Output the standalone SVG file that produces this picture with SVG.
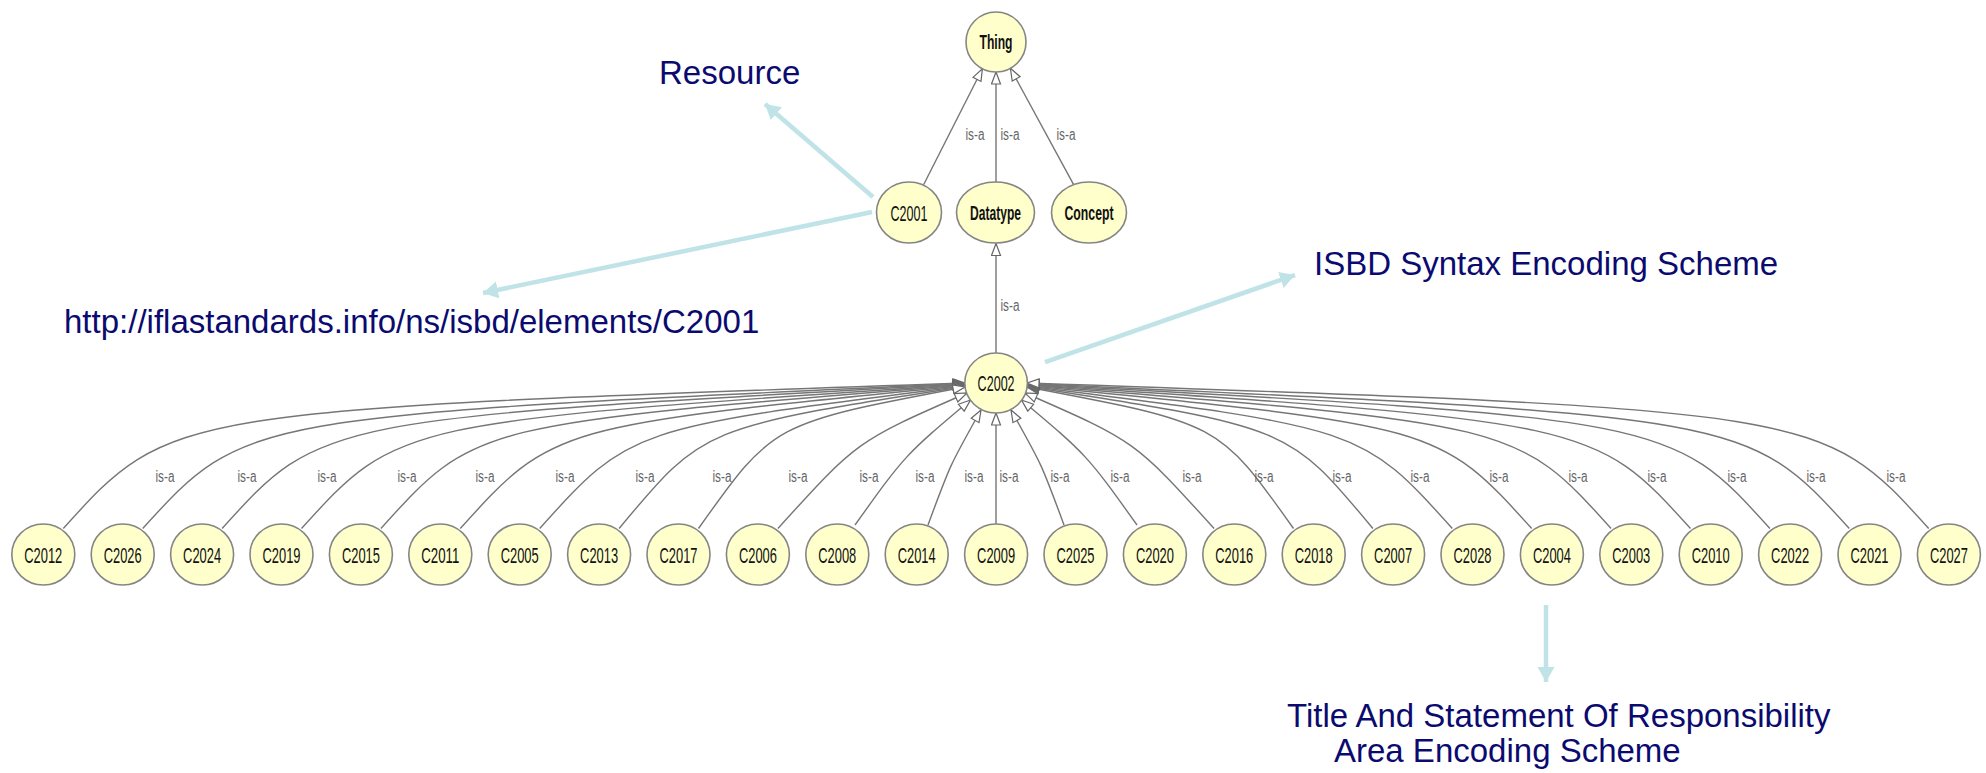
<svg xmlns="http://www.w3.org/2000/svg" width="1986" height="773" viewBox="0 0 1986 773">
<style>
.node ellipse{fill:#ffffcc;stroke:#858585;stroke-width:1.6}
.nt{font-family:"Liberation Sans",Arial,sans-serif;font-size:22px;fill:#111;text-anchor:middle}
.nb{font-family:"Liberation Sans",Arial,sans-serif;font-size:20px;font-weight:bold;fill:#111;text-anchor:middle}
.e{fill:none;stroke:#767676;stroke-width:1.4}
.lbl{font-family:"Liberation Sans",Arial,sans-serif;font-size:16px;fill:#666;text-anchor:middle}
.ann{fill:none;stroke:#bfe3e7;stroke-width:4.5}
.at{font-family:"Liberation Sans",Arial,sans-serif;font-size:33px;fill:#0b0b6f}
</style>
<defs>
<marker id="isa" markerUnits="userSpaceOnUse" markerWidth="16" markerHeight="12" refX="13" refY="5.5" orient="auto">
<path d="M1,1 L13,5.5 L1,10 Z" fill="#fff" stroke="#666" stroke-width="1.2"/>
</marker>
<marker id="blue" markerUnits="userSpaceOnUse" markerWidth="18" markerHeight="18" refX="15" refY="8.5" orient="auto">
<path d="M0,0 L15,8.5 L0,17 Z" fill="#bfe3e7"/>
</marker>
</defs>

<g id="connectors">
<path class="e" d="M923.6,184.7 L982.4,68.7" marker-end="url(#isa)"/>
<path class="e" d="M996,182 L996,72" marker-end="url(#isa)"/>
<path class="e" d="M1073.5,184.3 L1010.4,68.3" marker-end="url(#isa)"/>
<path class="e" d="M996,353 L996,243.5" marker-end="url(#isa)"/>
<path class="e" d="M63.3,528.5 C170,410 170,410 965,383" marker-end="url(#isa)"/>
<path class="e" d="M142.7,528.5 C245,416 245,416 965,383.5" marker-end="url(#isa)"/>
<path class="e" d="M222.1,528.5 C321,419 321,419 965,384" marker-end="url(#isa)"/>
<path class="e" d="M301.5,528.5 C398,422 398,422 965,384.5" marker-end="url(#isa)"/>
<path class="e" d="M380.9,528.5 C475,424 475,424 965,385" marker-end="url(#isa)"/>
<path class="e" d="M460.3,528.5 C553,426 553,426 965,385.5" marker-end="url(#isa)"/>
<path class="e" d="M539.7,528.5 C630,428 630,428 965,386" marker-end="url(#isa)"/>
<path class="e" d="M619.1,528.5 C703,427 703,427 965,386.5" marker-end="url(#isa)"/>
<path class="e" d="M698.5,528.5 C773,423 773,423 965,387" marker-end="url(#isa)"/>
<path class="e" d="M777.9,528.5 C857,441 857,441 967,393" marker-end="url(#isa)"/>
<path class="e" d="M855,525 C905,455 905,455 970.5,400" marker-end="url(#isa)"/>
<path class="e" d="M928,525 C950,465 950,465 981,410" marker-end="url(#isa)"/>
<path class="e" d="M996,524 L996,413" marker-end="url(#isa)"/>
<path class="e" d="M1064,525 C1042,465 1042,465 1011,410" marker-end="url(#isa)"/>
<path class="e" d="M1137,525 C1087,455 1087,455 1021.5,400" marker-end="url(#isa)"/>
<path class="e" d="M1214.1,528.5 C1135,441 1135,441 1025,393" marker-end="url(#isa)"/>
<path class="e" d="M1293.5,528.5 C1219,423 1219,423 1027,387" marker-end="url(#isa)"/>
<path class="e" d="M1372.9,528.5 C1289,427 1289,427 1027,386.5" marker-end="url(#isa)"/>
<path class="e" d="M1452.3,528.5 C1362,428 1362,428 1027,386" marker-end="url(#isa)"/>
<path class="e" d="M1531.7,528.5 C1439,426 1439,426 1027,385.5" marker-end="url(#isa)"/>
<path class="e" d="M1611.1,528.5 C1517,424 1517,424 1027,385" marker-end="url(#isa)"/>
<path class="e" d="M1690.5,528.5 C1594,422 1594,422 1027,384.5" marker-end="url(#isa)"/>
<path class="e" d="M1769.9,528.5 C1671,419 1671,419 1027,384" marker-end="url(#isa)"/>
<path class="e" d="M1849.3,528.5 C1747,416 1747,416 1027,383.5" marker-end="url(#isa)"/>
<path class="e" d="M1928.7,528.5 C1822,410 1822,410 1027,383" marker-end="url(#isa)"/>
<g>
<text class="lbl" x="975" y="140" textLength="19" lengthAdjust="spacingAndGlyphs">is-a</text>
<text class="lbl" x="1010" y="140" textLength="19" lengthAdjust="spacingAndGlyphs">is-a</text>
<text class="lbl" x="1066" y="140" textLength="19" lengthAdjust="spacingAndGlyphs">is-a</text>
<text class="lbl" x="1010" y="311" textLength="19" lengthAdjust="spacingAndGlyphs">is-a</text>
<text class="lbl" x="165" y="482" textLength="19" lengthAdjust="spacingAndGlyphs">is-a</text>
<text class="lbl" x="247" y="482" textLength="19" lengthAdjust="spacingAndGlyphs">is-a</text>
<text class="lbl" x="327" y="482" textLength="19" lengthAdjust="spacingAndGlyphs">is-a</text>
<text class="lbl" x="407" y="482" textLength="19" lengthAdjust="spacingAndGlyphs">is-a</text>
<text class="lbl" x="485" y="482" textLength="19" lengthAdjust="spacingAndGlyphs">is-a</text>
<text class="lbl" x="565" y="482" textLength="19" lengthAdjust="spacingAndGlyphs">is-a</text>
<text class="lbl" x="645" y="482" textLength="19" lengthAdjust="spacingAndGlyphs">is-a</text>
<text class="lbl" x="722" y="482" textLength="19" lengthAdjust="spacingAndGlyphs">is-a</text>
<text class="lbl" x="798" y="482" textLength="19" lengthAdjust="spacingAndGlyphs">is-a</text>
<text class="lbl" x="869" y="482" textLength="19" lengthAdjust="spacingAndGlyphs">is-a</text>
<text class="lbl" x="925" y="482" textLength="19" lengthAdjust="spacingAndGlyphs">is-a</text>
<text class="lbl" x="974" y="482" textLength="19" lengthAdjust="spacingAndGlyphs">is-a</text>
<text class="lbl" x="1009" y="482" textLength="19" lengthAdjust="spacingAndGlyphs">is-a</text>
<text class="lbl" x="1060" y="482" textLength="19" lengthAdjust="spacingAndGlyphs">is-a</text>
<text class="lbl" x="1120" y="482" textLength="19" lengthAdjust="spacingAndGlyphs">is-a</text>
<text class="lbl" x="1192" y="482" textLength="19" lengthAdjust="spacingAndGlyphs">is-a</text>
<text class="lbl" x="1264" y="482" textLength="19" lengthAdjust="spacingAndGlyphs">is-a</text>
<text class="lbl" x="1342" y="482" textLength="19" lengthAdjust="spacingAndGlyphs">is-a</text>
<text class="lbl" x="1420" y="482" textLength="19" lengthAdjust="spacingAndGlyphs">is-a</text>
<text class="lbl" x="1499" y="482" textLength="19" lengthAdjust="spacingAndGlyphs">is-a</text>
<text class="lbl" x="1578" y="482" textLength="19" lengthAdjust="spacingAndGlyphs">is-a</text>
<text class="lbl" x="1657" y="482" textLength="19" lengthAdjust="spacingAndGlyphs">is-a</text>
<text class="lbl" x="1737" y="482" textLength="19" lengthAdjust="spacingAndGlyphs">is-a</text>
<text class="lbl" x="1816" y="482" textLength="19" lengthAdjust="spacingAndGlyphs">is-a</text>
<text class="lbl" x="1896" y="482" textLength="19" lengthAdjust="spacingAndGlyphs">is-a</text>
</g>
<path class="ann" d="M873,197 L765,104" marker-end="url(#blue)"/>
<path class="ann" d="M872,212 L483,293" marker-end="url(#blue)"/>
<path class="ann" d="M1045,362 L1295,275" marker-end="url(#blue)"/>
<path class="ann" d="M1546,605 L1546,682" marker-end="url(#blue)"/>
</g>

<g id="n-Thing" class="node"><ellipse cx="996" cy="42" rx="30" ry="30"/><text class="nb" x="996" y="49" textLength="33" lengthAdjust="spacingAndGlyphs">Thing</text></g>
<g id="n-C2001" class="node"><ellipse cx="909" cy="212.5" rx="32.5" ry="30.5"/><text class="nt" x="909" y="220.5" textLength="37" lengthAdjust="spacingAndGlyphs">C2001</text></g>
<g id="n-Datatype" class="node"><ellipse cx="995.5" cy="212.5" rx="39" ry="30.5"/><text class="nb" x="995.5" y="219.5" textLength="51" lengthAdjust="spacingAndGlyphs">Datatype</text></g>
<g id="n-Concept" class="node"><ellipse cx="1089" cy="212.5" rx="37.5" ry="30.5"/><text class="nb" x="1089" y="219.5" textLength="49" lengthAdjust="spacingAndGlyphs">Concept</text></g>
<g id="n-C2002" class="node"><ellipse cx="996.1" cy="383" rx="31.3" ry="30"/><text class="nt" x="996.1" y="391" textLength="37" lengthAdjust="spacingAndGlyphs">C2002</text></g>

<g id="n-C2012" class="node"><ellipse cx="43.3" cy="554.5" rx="31.5" ry="30.5"/><text class="nt" x="43.3" y="562.5" textLength="38" lengthAdjust="spacingAndGlyphs">C2012</text></g>
<g id="n-C2026" class="node"><ellipse cx="122.7" cy="554.5" rx="31.5" ry="30.5"/><text class="nt" x="122.7" y="562.5" textLength="38" lengthAdjust="spacingAndGlyphs">C2026</text></g>
<g id="n-C2024" class="node"><ellipse cx="202.1" cy="554.5" rx="31.5" ry="30.5"/><text class="nt" x="202.1" y="562.5" textLength="38" lengthAdjust="spacingAndGlyphs">C2024</text></g>
<g id="n-C2019" class="node"><ellipse cx="281.5" cy="554.5" rx="31.5" ry="30.5"/><text class="nt" x="281.5" y="562.5" textLength="38" lengthAdjust="spacingAndGlyphs">C2019</text></g>
<g id="n-C2015" class="node"><ellipse cx="360.9" cy="554.5" rx="31.5" ry="30.5"/><text class="nt" x="360.9" y="562.5" textLength="38" lengthAdjust="spacingAndGlyphs">C2015</text></g>
<g id="n-C2011" class="node"><ellipse cx="440.3" cy="554.5" rx="31.5" ry="30.5"/><text class="nt" x="440.3" y="562.5" textLength="38" lengthAdjust="spacingAndGlyphs">C2011</text></g>
<g id="n-C2005" class="node"><ellipse cx="519.7" cy="554.5" rx="31.5" ry="30.5"/><text class="nt" x="519.7" y="562.5" textLength="38" lengthAdjust="spacingAndGlyphs">C2005</text></g>
<g id="n-C2013" class="node"><ellipse cx="599.1" cy="554.5" rx="31.5" ry="30.5"/><text class="nt" x="599.1" y="562.5" textLength="38" lengthAdjust="spacingAndGlyphs">C2013</text></g>
<g id="n-C2017" class="node"><ellipse cx="678.5" cy="554.5" rx="31.5" ry="30.5"/><text class="nt" x="678.5" y="562.5" textLength="38" lengthAdjust="spacingAndGlyphs">C2017</text></g>
<g id="n-C2006" class="node"><ellipse cx="757.9" cy="554.5" rx="31.5" ry="30.5"/><text class="nt" x="757.9" y="562.5" textLength="38" lengthAdjust="spacingAndGlyphs">C2006</text></g>
<g id="n-C2008" class="node"><ellipse cx="837.3" cy="554.5" rx="31.5" ry="30.5"/><text class="nt" x="837.3" y="562.5" textLength="38" lengthAdjust="spacingAndGlyphs">C2008</text></g>
<g id="n-C2014" class="node"><ellipse cx="916.7" cy="554.5" rx="31.5" ry="30.5"/><text class="nt" x="916.7" y="562.5" textLength="38" lengthAdjust="spacingAndGlyphs">C2014</text></g>
<g id="n-C2009" class="node"><ellipse cx="996.1" cy="554.5" rx="31.5" ry="30.5"/><text class="nt" x="996.1" y="562.5" textLength="38" lengthAdjust="spacingAndGlyphs">C2009</text></g>
<g id="n-C2025" class="node"><ellipse cx="1075.5" cy="554.5" rx="31.5" ry="30.5"/><text class="nt" x="1075.5" y="562.5" textLength="38" lengthAdjust="spacingAndGlyphs">C2025</text></g>
<g id="n-C2020" class="node"><ellipse cx="1154.9" cy="554.5" rx="31.5" ry="30.5"/><text class="nt" x="1154.9" y="562.5" textLength="38" lengthAdjust="spacingAndGlyphs">C2020</text></g>
<g id="n-C2016" class="node"><ellipse cx="1234.3" cy="554.5" rx="31.5" ry="30.5"/><text class="nt" x="1234.3" y="562.5" textLength="38" lengthAdjust="spacingAndGlyphs">C2016</text></g>
<g id="n-C2018" class="node"><ellipse cx="1313.7" cy="554.5" rx="31.5" ry="30.5"/><text class="nt" x="1313.7" y="562.5" textLength="38" lengthAdjust="spacingAndGlyphs">C2018</text></g>
<g id="n-C2007" class="node"><ellipse cx="1393.1" cy="554.5" rx="31.5" ry="30.5"/><text class="nt" x="1393.1" y="562.5" textLength="38" lengthAdjust="spacingAndGlyphs">C2007</text></g>
<g id="n-C2028" class="node"><ellipse cx="1472.5" cy="554.5" rx="31.5" ry="30.5"/><text class="nt" x="1472.5" y="562.5" textLength="38" lengthAdjust="spacingAndGlyphs">C2028</text></g>
<g id="n-C2004" class="node"><ellipse cx="1551.9" cy="554.5" rx="31.5" ry="30.5"/><text class="nt" x="1551.9" y="562.5" textLength="38" lengthAdjust="spacingAndGlyphs">C2004</text></g>
<g id="n-C2003" class="node"><ellipse cx="1631.3" cy="554.5" rx="31.5" ry="30.5"/><text class="nt" x="1631.3" y="562.5" textLength="38" lengthAdjust="spacingAndGlyphs">C2003</text></g>
<g id="n-C2010" class="node"><ellipse cx="1710.7" cy="554.5" rx="31.5" ry="30.5"/><text class="nt" x="1710.7" y="562.5" textLength="38" lengthAdjust="spacingAndGlyphs">C2010</text></g>
<g id="n-C2022" class="node"><ellipse cx="1790.1" cy="554.5" rx="31.5" ry="30.5"/><text class="nt" x="1790.1" y="562.5" textLength="38" lengthAdjust="spacingAndGlyphs">C2022</text></g>
<g id="n-C2021" class="node"><ellipse cx="1869.5" cy="554.5" rx="31.5" ry="30.5"/><text class="nt" x="1869.5" y="562.5" textLength="38" lengthAdjust="spacingAndGlyphs">C2021</text></g>
<g id="n-C2027" class="node"><ellipse cx="1948.9" cy="554.5" rx="31.5" ry="30.5"/><text class="nt" x="1948.9" y="562.5" textLength="38" lengthAdjust="spacingAndGlyphs">C2027</text></g>

<g id="annotations">
<text class="at" x="659" y="84">Resource</text>
<text class="at" x="64" y="333">http://iflastandards.info/ns/isbd/elements/C2001</text>
<text class="at" x="1314" y="275">ISBD Syntax Encoding Scheme</text>
<text class="at" x="1287" y="727">Title And Statement Of Responsibility</text>
<text class="at" x="1334" y="762">Area Encoding Scheme</text>
</g>
</svg>
